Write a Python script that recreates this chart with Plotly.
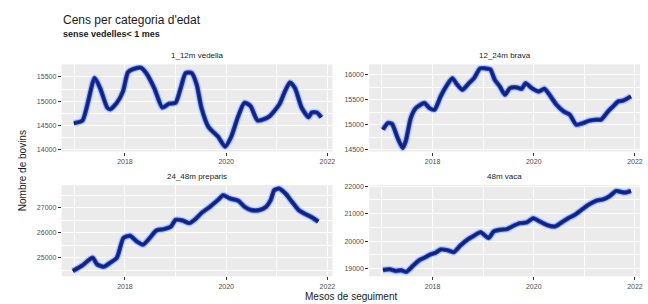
import plotly.graph_objects as go

# ---- data (decimal years, counts) ----
panel_titles = ["1_12m vedella", "12_24m brava", "24_48m preparis", "48m vaca"]

t1 = [2016.99, 2017.16, 2017.40, 2017.51, 2017.65, 2017.71, 2017.84, 2017.96, 2018.06, 2018.16,
      2018.32, 2018.42, 2018.58, 2018.74, 2018.87, 2019.00, 2019.10, 2019.20, 2019.32, 2019.42,
      2019.51, 2019.65, 2019.84, 2019.98, 2020.10, 2020.23, 2020.36, 2020.48, 2020.62, 2020.76,
      2020.87, 2021.05, 2021.16, 2021.26, 2021.36, 2021.49, 2021.63, 2021.69, 2021.79, 2021.88]
v1 = [14546, 14600, 15480, 15267, 14867, 14833, 14967, 15200, 15600, 15660,
      15690, 15580, 15267, 14867, 14947, 14967, 15267, 15580, 15580, 15333,
      14867, 14467, 14267, 14060, 14267, 14667, 14967, 14900, 14600, 14633,
      14700, 14933, 15200, 15387, 15267, 14867, 14667, 14767, 14767, 14667]

t2 = [2017.02, 2017.12, 2017.20, 2017.31, 2017.41, 2017.47, 2017.57, 2017.67, 2017.84, 2017.94,
      2018.04, 2018.16, 2018.29, 2018.39, 2018.49, 2018.59, 2018.72, 2018.82, 2018.94, 2019.04,
      2019.14, 2019.23, 2019.33, 2019.43, 2019.53, 2019.67, 2019.76, 2019.84, 2019.96, 2020.10,
      2020.21, 2020.31, 2020.45, 2020.59, 2020.71, 2020.84, 2020.98, 2021.10, 2021.23, 2021.33,
      2021.47, 2021.57, 2021.67, 2021.76, 2021.92]
v2 = [14900, 15033, 15013, 14733, 14533, 14667, 15133, 15333, 15433, 15333,
      15300, 15567, 15800, 15933, 15800, 15700, 15833, 15933, 16130, 16130,
      16110, 15900, 15767, 15600, 15733, 15747, 15720, 15833, 15733, 15667,
      15720, 15600, 15400, 15267, 15200, 15000, 15033, 15080, 15100, 15100,
      15267, 15367, 15467, 15480, 15567]

t3 = [2016.97, 2017.16, 2017.36, 2017.45, 2017.58, 2017.71, 2017.84, 2017.97, 2018.10, 2018.23,
      2018.36, 2018.49, 2018.62, 2018.77, 2018.91, 2019.00, 2019.14, 2019.27, 2019.39, 2019.52,
      2019.68, 2019.85, 2019.94, 2020.07, 2020.24, 2020.36, 2020.49, 2020.66, 2020.79, 2020.88,
      2020.95, 2021.04, 2021.17, 2021.30, 2021.43, 2021.56, 2021.69, 2021.82]
v3 = [24472, 24697, 25000, 24737, 24645, 24803, 25000, 25790, 25882, 25658,
      25527, 25790, 26092, 26145, 26250, 26514, 26487, 26384, 26542, 26803,
      27040, 27332, 27502, 27371, 27277, 27040, 26909, 26909, 27040, 27304,
      27699, 27766, 27568, 27237, 26909, 26751, 26621, 26447]

t4 = [2017.02, 2017.15, 2017.28, 2017.38, 2017.48, 2017.61, 2017.74, 2017.84, 2017.96, 2018.06,
      2018.16, 2018.29, 2018.42, 2018.55, 2018.69, 2018.82, 2018.95, 2019.11, 2019.21, 2019.34,
      2019.47, 2019.60, 2019.73, 2019.86, 2019.99, 2020.12, 2020.25, 2020.42, 2020.55, 2020.68,
      2020.81, 2020.94, 2021.07, 2021.23, 2021.37, 2021.50, 2021.63, 2021.72, 2021.82, 2021.92]
v4 = [18950, 18976, 18915, 18940, 18880, 19095, 19310, 19397, 19516, 19577,
      19696, 19672, 19600, 19840, 20056, 20200, 20320, 20117, 20356, 20416,
      20440, 20560, 20656, 20680, 20836, 20716, 20596, 20536, 20680, 20836,
      20956, 21136, 21316, 21472, 21520, 21640, 21832, 21796, 21772, 21832]

y_ticks = [[14000, 14500, 15000, 15500],
           [14500, 15000, 15500, 16000],
           [25000, 26000, 27000],
           [19000, 20000, 21000, 22000]]
x_ticks = [2018, 2020, 2022]

series = [(t1, v1), (t2, v2), (t3, v3), (t4, v4)]

# ---- layout geometry / axis settings ----
W, H = 648, 304
xdoms = [[62 / W, 334 / W], [371 / W, 643 / W]]
ydoms = [[1 - 151 / H, 1 - 63 / H], [1 - 277 / H, 1 - 185 / H]]
y_ranges = [[13960, 15760], [14460, 16210], [24260, 27900], [18720, 22040]]
FONT = "Liberation Sans, Arial, sans-serif"

fig = go.Figure()
layout = dict(
    width=W, height=H, margin=dict(l=0, r=0, t=0, b=0),
    paper_bgcolor="white", plot_bgcolor="#EBEBEB", showlegend=False,
    font=dict(family=FONT, color="#4D4D4D"),
)
annotations = []
for i, ((t, v), title) in enumerate(zip(series, panel_titles)):
    row, col = divmod(i, 2)
    ax = "" if i == 0 else str(i + 1)
    xa, ya = "x" + ax, "y" + ax
    for width, color in [(7, "rgba(120,170,255,0.45)"), (4.5, "#1f3fd6"), (2.5, "#15206e")]:
        fig.add_trace(go.Scatter(x=t, y=v, mode="lines", xaxis=xa, yaxis=ya,
                                 line=dict(color=color, width=width, shape="spline", smoothing=0.6),
                                 hoverinfo="x+y"))
    ystep = y_ticks[i][1] - y_ticks[i][0]
    layout["xaxis" + ax] = dict(
        domain=xdoms[col], anchor=ya, range=[2016.75, 2022.1],
        tickvals=x_ticks, ticktext=[str(x) for x in x_ticks],
        showgrid=True, gridcolor="white", gridwidth=1.1, zeroline=False,
        minor=dict(tickvals=[2017, 2019, 2021], showgrid=True, gridcolor="white", gridwidth=0.5),
        ticks="outside", ticklen=3, tickcolor="#333333",
        tickfont=dict(size=7, color="#4D4D4D", family=FONT), showline=False,
    )
    layout["yaxis" + ax] = dict(
        domain=ydoms[row], anchor=xa, range=y_ranges[i],
        tickvals=y_ticks[i], ticktext=[str(y) for y in y_ticks[i]],
        showgrid=True, gridcolor="white", gridwidth=1.1, zeroline=False,
        minor=dict(tickvals=[y + ystep / 2 for y in y_ticks[i]] + [y_ticks[i][0] - ystep / 2],
                   showgrid=True, gridcolor="white", gridwidth=0.5),
        ticks="outside", ticklen=3, tickcolor="#333333",
        tickfont=dict(size=7, color="#4D4D4D", family=FONT), showline=False,
    )
    annotations.append(dict(
        text=title, xref="paper", yref="paper",
        x=(xdoms[col][0] + xdoms[col][1]) / 2, y=ydoms[row][1],
        xanchor="center", yanchor="bottom", yshift=2, showarrow=False,
        font=dict(size=8, color="#1A1A1A", family=FONT)))

annotations += [
    dict(text="Cens per categoria d'edat", xref="paper", yref="paper",
         x=61 / W, y=1 - 9 / H, xanchor="left", yanchor="top", showarrow=False,
         font=dict(size=12, color="#1A1A1A", family=FONT)),
    dict(text="<b>sense vedelles< 1 mes</b>", xref="paper", yref="paper",
         x=61 / W, y=1 - 25 / H, xanchor="left", yanchor="top", showarrow=False,
         font=dict(size=9, color="#1A1A1A", family=FONT)),
    dict(text="Mesos de seguiment", xref="paper", yref="paper",
         x=(62 + 643) / 2 / W, y=1 - 297 / H, xanchor="center", yanchor="middle", showarrow=False,
         font=dict(size=10, color="#1A1A1A", family=FONT)),
    dict(text="Nombre de bovins", xref="paper", yref="paper", textangle=-90,
         x=22 / W, y=1 - 170 / H, xanchor="center", yanchor="middle", showarrow=False,
         font=dict(size=10, color="#1A1A1A", family=FONT)),
]
layout["annotations"] = annotations
fig.update_layout(**layout)
fig.write_html("out.html", config={"displayModeBar": False},
               post_script="document.body.style.margin='0';document.body.style.padding='0';")
